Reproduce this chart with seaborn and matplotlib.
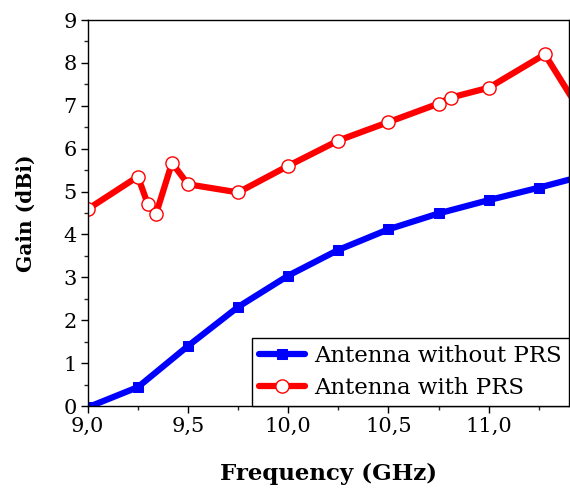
import numpy as np
import pandas as pd
import matplotlib
matplotlib.use("Agg")
import matplotlib.pyplot as plt
import seaborn as sns
from matplotlib.ticker import MultipleLocator, FuncFormatter

# gain without PRS
freq_no_prs = [9.0, 9.25, 9.5, 9.75, 10.0, 10.25, 10.5, 10.75, 11.0, 11.25, 11.5]
gain_no_prs = [-0.03, 0.44, 1.40, 2.31, 3.04, 3.64, 4.12, 4.49, 4.80, 5.09, 5.40]

# gain with PRS
freq_prs = [9.0, 9.25, 9.30, 9.34, 9.42, 9.5, 9.75, 10.0, 10.25, 10.5, 10.75, 10.81, 11.0, 11.28, 11.5]
gain_prs = [4.59, 5.35, 4.70, 4.47, 5.67, 5.17, 4.98, 5.60, 6.19, 6.62, 7.05, 7.19, 7.42, 8.20, 6.55]

sns.set_style("ticks")
plt.rcParams['font.family'] = ['DejaVu Serif']
plt.rcParams['mathtext.fontset'] = 'dejavuserif'

fig = plt.figure(figsize=(5.7, 4.88), dpi=100)
ax = fig.add_axes([0.154, 0.168, 0.844, 0.791])

sns.lineplot(x=freq_no_prs, y=gain_no_prs, ax=ax, color='#0000ff', lw=4.5,
             marker='s', markersize=7.5, markeredgecolor='#0000ff',
             label='Antenna without PRS', sort=False)
sns.lineplot(x=freq_prs, y=gain_prs, ax=ax, color='#ff0000', lw=4.5,
             marker='o', markersize=9.5, markerfacecolor='white', markeredgecolor='#ff0000',
             markeredgewidth=1, label='Antenna with PRS', sort=False)

ax.set_xlim(9.0, 11.4)
ax.set_ylim(0, 9)
ax.xaxis.set_major_locator(MultipleLocator(0.5))
ax.xaxis.set_minor_locator(MultipleLocator(0.25))
ax.yaxis.set_major_locator(MultipleLocator(1))
ax.yaxis.set_minor_locator(MultipleLocator(0.5))
ax.xaxis.set_major_formatter(FuncFormatter(lambda v, p: f"{v:.1f}".replace('.', ',')))

ax.tick_params(which='major', direction='out', length=5, width=1, labelsize=15,
               colors='black', top=False, right=False, pad=3)
ax.tick_params(which='minor', direction='out', length=3, width=1, top=False, right=False)

for s in ax.spines.values():
    s.set_color('black')
    s.set_linewidth(1)

ax.set_xlabel('Frequency (GHz)', fontsize=16.5, fontweight='bold', labelpad=19, color='black')
ax.set_ylabel('Gain (dBi)', fontsize=14.5, fontweight='bold', labelpad=20, color='black')

leg = ax.legend(loc='lower right', fontsize=16.5, frameon=True, fancybox=False,
                borderaxespad=0, handlelength=2.0, handletextpad=0.4,
                borderpad=0.3, labelspacing=0.45)
leg.get_frame().set_edgecolor('black')
leg.get_frame().set_linewidth(1)
leg.get_frame().set_alpha(1)
for t in leg.get_texts():
    t.set_color('black')

fig.savefig('out.png', dpi=100)
